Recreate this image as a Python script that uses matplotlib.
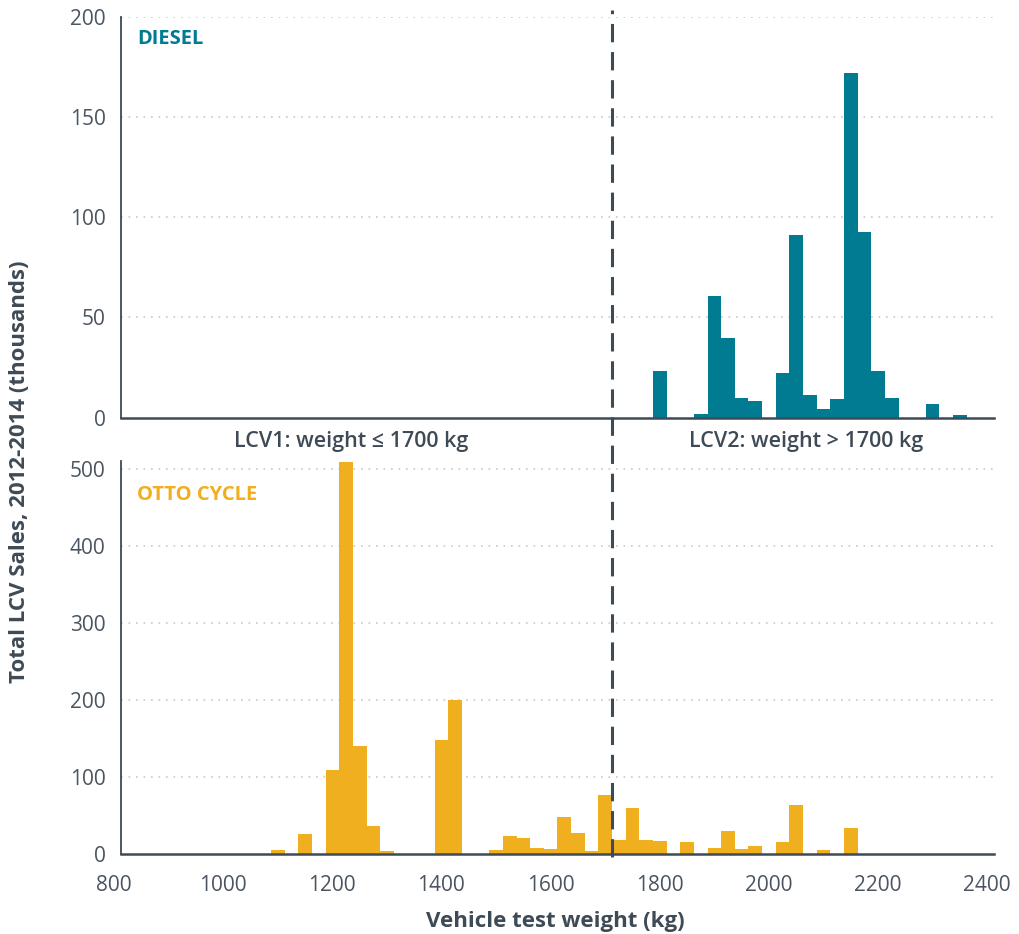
import matplotlib
matplotlib.use("Agg")
import matplotlib.pyplot as plt
import matplotlib.transforms as mtransforms
from matplotlib.lines import Line2D

# bin left edges (kg), 25 kg wide, and sales in thousands
diesel_bins = [1775, 1850, 1875, 1900, 1925, 1950, 2000, 2025, 2050, 2075,
               2100, 2125, 2150, 2175, 2200, 2275, 2325]
diesel_sales = [23.2, 1.8, 60.6, 39.7, 9.8, 8.3, 22.2, 91.0, 11.3, 4.3,
                9.3, 171.8, 92.5, 23.2, 9.8, 6.8, 1.3]

otto_bins = [1075, 1125, 1175, 1200, 1225, 1250, 1275, 1375, 1400, 1475,
             1500, 1525, 1550, 1575, 1600, 1625, 1650, 1675, 1700, 1725,
             1750, 1775, 1825, 1875, 1900, 1925, 1950, 2000, 2025, 2075, 2125]
otto_sales = [5, 26, 109, 508, 140, 36, 4, 148, 200, 5,
              23, 21, 8, 6.5, 48, 27, 4, 76.5, 18, 60,
              18, 17, 15.5, 7.5, 30, 6.5, 10, 15.5, 63, 5, 34]

bin_width = 25
threshold = 1700
x_ticks = [800, 1000, 1200, 1400, 1600, 1800, 2000, 2200, 2400]
diesel_yticks = [0, 50, 100, 150, 200]
otto_yticks = [0, 100, 200, 300, 400, 500]

TEAL = "#007b91"
ORANGE = "#f0af1e"
SLATE = "#3e4a55"
TEXT = "#4a5561"
GRID = "#c9c9c9"

plt.rcParams['font.family'] = ['Open Sans', 'DejaVu Sans']

fig = plt.figure(figsize=(10.19, 9.34), dpi=100)
ax1 = fig.add_axes([0.1187, 0.5529, 0.8568, 0.4289])
ax2 = fig.add_axes([0.1187, 0.0857, 0.8568, 0.4208])


def style_axis(ax, yticks):
    ax.set_xlim(800, 2400)
    ax.set_yticks(yticks)
    ax.set_yticklabels([str(t) for t in yticks], fontsize=15, color=TEXT)
    ax.tick_params(axis='y', length=0, pad=11)
    ax.set_axisbelow(True)
    ax.yaxis.grid(True, color=GRID, linestyle=(0, (1, 3.5)), linewidth=1.2)
    ax.xaxis.grid(False)
    for side in ['top', 'right']:
        ax.spines[side].set_visible(False)
    ax.spines['left'].set_color(SLATE)
    ax.spines['left'].set_linewidth(1.3)
    ax.spines['bottom'].set_color(SLATE)
    ax.spines['bottom'].set_linewidth(1.8)
    # hide the gridline at zero (spine sits there)
    ax.get_ygridlines()[0].set_visible(False)


ax1.bar(diesel_bins, diesel_sales, width=bin_width, align='edge',
        color=TEAL, linewidth=0)
style_axis(ax1, diesel_yticks)
ax1.set_ylim(0, 200)
ax1.set_xticks([])

ax2.bar(otto_bins, otto_sales, width=bin_width, align='edge',
        color=ORANGE, linewidth=0)
style_axis(ax2, otto_yticks)
ax2.set_ylim(0, 510)
ax2.set_xticks(x_ticks)
ax2.set_xticklabels([str(t) for t in x_ticks], fontsize=15, color=TEXT)
ax2.tick_params(axis='x', length=0, pad=15)
shift = mtransforms.ScaledTranslation(-7 / 100, 0, fig.dpi_scale_trans)
for lab in ax2.get_xticklabels():
    lab.set_transform(lab.get_transform() + shift)

ax1.text(0.0183, 0.945, "DIESEL", transform=ax1.transAxes, color=TEAL,
         fontsize=14.5, fontweight='bold', va='center', ha='left')
ax2.text(0.0183, 0.914, "OTTO CYCLE", transform=ax2.transAxes, color=ORANGE,
         fontsize=14.5, fontweight='bold', va='center', ha='left')

fig.text(351 / 1019, 1 - 442 / 934, "LCV1: weight \u2264 1700 kg",
         fontsize=15.5, fontweight='semibold', color=SLATE, ha='center', va='center')
fig.text(806 / 1019, 1 - 442 / 934, "LCV2: weight > 1700 kg",
         fontsize=15.5, fontweight='semibold', color=SLATE, ha='center', va='center')

fig.text(20 / 1019, 1 - 472 / 934, "Total LCV Sales, 2012-2014 (thousands)",
         rotation=90, fontsize=16, fontweight='bold', color=SLATE,
         ha='center', va='center')
fig.text(555 / 1019, 1 - 921 / 934, "Vehicle test weight (kg)",
         fontsize=16, fontweight='bold', color=SLATE, ha='center', va='center')

# dashed separator through both panels
trans = mtransforms.blended_transform_factory(ax2.transData, fig.transFigure)
sep = Line2D([threshold, threshold], [1 - 857 / 934, 1 - 10 / 934],
             transform=trans, color=SLATE, linewidth=2.2,
             linestyle=(0, (6, 3.2)), zorder=10)
fig.add_artist(sep)

fig.savefig("out.png", dpi=100)
